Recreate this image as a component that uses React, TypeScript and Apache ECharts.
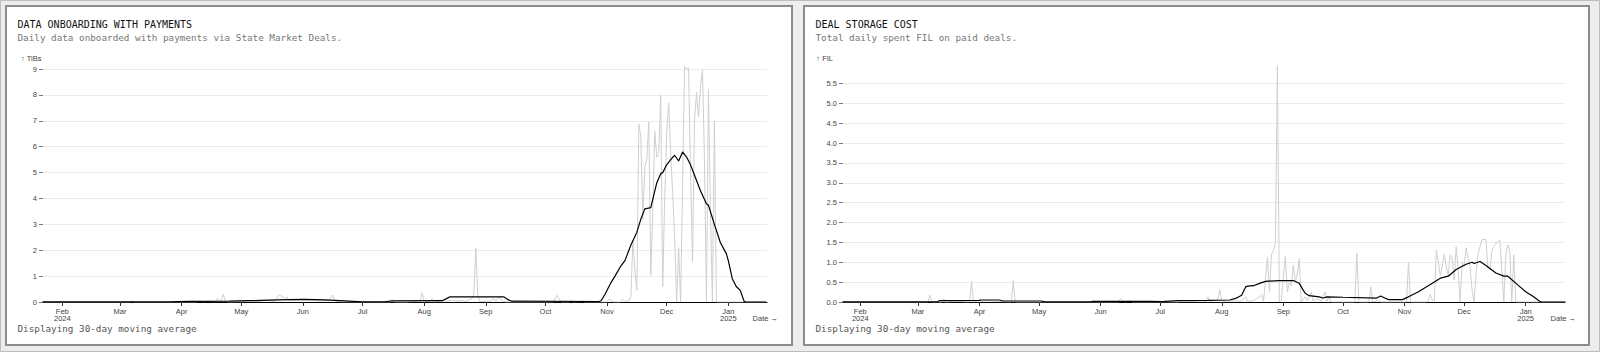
import React, { useEffect, useRef } from 'react';
import * as echarts from 'echarts';

// ---------- data ----------
const monthTicks = ['2024-02-01', '2024-03-01', '2024-04-01', '2024-05-01', '2024-06-01', '2024-07-01',
  '2024-08-01', '2024-09-01', '2024-10-01', '2024-11-01', '2024-12-01', '2025-01-01'];
const monthLabels = ['Feb\n2024', 'Mar', 'Apr', 'May', 'Jun', 'Jul', 'Aug', 'Sep', 'Oct', 'Nov', 'Dec', 'Jan\n2025'];

const onboardTicks = [0, 1, 2, 3, 4, 5, 6, 7, 8, 9];
const costTicks = [0, 0.5, 1, 1.5, 2, 2.5, 3, 3.5, 4, 4.5, 5, 5.5];

// Daily data onboarded (TiBs)
const onboardDaily: [string, number][] = [
  ['2024-01-22', 0], ['2024-03-06', 0], ['2024-03-07', 0.04], ['2024-03-08', 0],
  ['2024-04-08', 0], ['2024-04-10', 0.03], ['2024-04-12', 0.01], ['2024-04-14', 0.04], ['2024-04-16', 0.02],
  ['2024-04-18', 0.01], ['2024-04-19', 0.14], ['2024-04-20', 0.03], ['2024-04-21', 0.05], ['2024-04-22', 0.3], ['2024-04-23', 0.02],
  ['2024-04-25', 0], ['2024-05-02', 0.02], ['2024-05-08', 0.05], ['2024-05-10', 0.02], ['2024-05-13', 0.06],
  ['2024-05-18', 0.03], ['2024-05-20', 0.27], ['2024-05-22', 0.2], ['2024-05-23', 0.12], ['2024-05-24', 0.2], ['2024-05-25', 0.06],
  ['2024-05-28', 0.08], ['2024-06-02', 0.1], ['2024-06-06', 0.07], ['2024-06-10', 0.05], ['2024-06-14', 0.04],
  ['2024-06-16', 0.27], ['2024-06-17', 0.04], ['2024-06-20', 0.01], ['2024-07-01', 0], ['2024-07-15', 0],
  ['2024-07-16', 0.1], ['2024-07-17', 0], ['2024-07-24', 0], ['2024-07-25', 0.06], ['2024-07-27', 0.02],
  ['2024-07-30', 0.05], ['2024-07-31', 0.36], ['2024-08-01', 0.03], ['2024-08-04', 0.02], ['2024-08-05', 0.13],
  ['2024-08-06', 0.01], ['2024-08-14', 0.05], ['2024-08-16', 0.07], ['2024-08-18', 0.03], ['2024-08-20', 0.06],
  ['2024-08-22', 0.02], ['2024-08-25', 0.13], ['2024-08-26', 0.3], ['2024-08-27', 2.08], ['2024-08-28', 0.25],
  ['2024-08-29', 0.02], ['2024-09-03', 0.03], ['2024-09-05', 0.13], ['2024-09-06', 0.03], ['2024-09-08', 0.2],
  ['2024-09-09', 0.05], ['2024-09-11', 0], ['2024-10-05', 0], ['2024-10-06', 0.15], ['2024-10-07', 0.26],
  ['2024-10-08', 0.1], ['2024-10-09', 0], ['2024-10-13', 0], ['2024-10-14', 0.06], ['2024-10-15', 0],
  ['2024-10-20', 0.03], ['2024-10-21', 0], ['2024-11-01', 0], ['2024-11-02', 0.1], ['2024-11-03', 0.08],
  ['2024-11-04', 0], ['2024-11-08', 0], ['2024-11-09', 0.1], ['2024-11-10', 0.02], ['2024-11-12', 0.05],
  ['2024-11-13', 0.2], ['2024-11-14', 2.4], ['2024-11-15', 1.2], ['2024-11-16', 0.45], ['2024-11-17', 6.87],
  ['2024-11-18', 6.4], ['2024-11-19', 3.2], ['2024-11-20', 5.2], ['2024-11-21', 5.5], ['2024-11-22', 6.96],
  ['2024-11-23', 1.03], ['2024-11-24', 3.5], ['2024-11-25', 6.6], ['2024-11-26', 5.6], ['2024-11-27', 5.7],
  ['2024-11-28', 8.0], ['2024-11-29', 0.58], ['2024-11-30', 4.0], ['2024-12-01', 6.5], ['2024-12-02', 7.7],
  ['2024-12-03', 5.8], ['2024-12-04', 4.2], ['2024-12-05', 2.5], ['2024-12-06', 0], ['2024-12-07', 2.1],
  ['2024-12-08', 0], ['2024-12-09', 4.5], ['2024-12-10', 9.1], ['2024-12-11', 9.0], ['2024-12-12', 9.05],
  ['2024-12-13', 5.0], ['2024-12-14', 1.56], ['2024-12-15', 7.0], ['2024-12-16', 8.1], ['2024-12-17', 7.15],
  ['2024-12-18', 8.3], ['2024-12-19', 8.96], ['2024-12-20', 5.5], ['2024-12-21', 0], ['2024-12-22', 8.2],
  ['2024-12-23', 3.5], ['2024-12-24', 0], ['2024-12-25', 7.0], ['2024-12-26', 0], ['2025-01-20', 0],
];

// 30-day moving average of data onboarded (TiBs)
const onboardAvg: [string, number][] = [
  ['2024-01-22', 0.005], ['2024-03-25', 0.005], ['2024-04-05', 0.025], ['2024-04-25', 0.03], ['2024-05-05', 0.05],
  ['2024-05-15', 0.07], ['2024-05-25', 0.09], ['2024-06-02', 0.1], ['2024-06-12', 0.08], ['2024-06-22', 0.04],
  ['2024-07-01', 0.005], ['2024-07-12', 0.01], ['2024-07-16', 0.04], ['2024-08-10', 0.05], ['2024-08-12', 0.12],
  ['2024-08-14', 0.2], ['2024-09-10', 0.2], ['2024-09-12', 0.1], ['2024-09-14', 0.03], ['2024-10-28', 0.02],
  ['2024-10-29', 0.05], ['2024-10-31', 0.3], ['2024-11-03', 0.75], ['2024-11-05', 1.0], ['2024-11-08', 1.4],
  ['2024-11-10', 1.6], ['2024-11-13', 2.2], ['2024-11-16', 2.7], ['2024-11-18', 3.2], ['2024-11-20', 3.6],
  ['2024-11-23', 3.65], ['2024-11-26', 4.6], ['2024-11-28', 4.96], ['2024-11-29', 5.0], ['2024-12-01', 5.3],
  ['2024-12-03', 5.5], ['2024-12-05', 5.67], ['2024-12-07', 5.45], ['2024-12-09', 5.8], ['2024-12-11', 5.6],
  ['2024-12-13', 5.3], ['2024-12-15', 4.9], ['2024-12-18', 4.3], ['2024-12-21', 3.8], ['2024-12-22', 3.74],
  ['2024-12-25', 3.0], ['2024-12-28', 2.3], ['2024-12-31', 1.87], ['2025-01-01', 1.6], ['2025-01-03', 0.9],
  ['2025-01-05', 0.6], ['2025-01-07', 0.45], ['2025-01-09', 0.02], ['2025-01-10', 0], ['2025-01-20', 0],
];

// Daily FIL spent on paid deals
const costDaily: [string, number][] = [
  ['2024-01-23', 0], ['2024-03-06', 0], ['2024-03-07', 0.17], ['2024-03-08', 0], ['2024-03-13', 0],
  ['2024-03-14', 0.08], ['2024-03-15', 0], ['2024-03-20', 0.02], ['2024-03-27', 0], ['2024-03-28', 0.52],
  ['2024-03-29', 0], ['2024-03-31', 0.02], ['2024-04-01', 0.08], ['2024-04-02', 0.01], ['2024-04-05', 0.03],
  ['2024-04-17', 0], ['2024-04-18', 0.54], ['2024-04-19', 0], ['2024-06-10', 0], ['2024-06-11', 0.09],
  ['2024-06-12', 0.05], ['2024-06-13', 0], ['2024-06-16', 0.03], ['2024-06-17', 0], ['2024-07-10', 0],
  ['2024-07-12', 0.03], ['2024-07-18', 0.02], ['2024-07-22', 0.04], ['2024-07-24', 0.01], ['2024-07-25', 0.13],
  ['2024-07-26', 0.02], ['2024-07-30', 0.05], ['2024-07-31', 0.31], ['2024-08-01', 0.02], ['2024-08-05', 0.03],
  ['2024-08-11', 0.02], ['2024-08-13', 0.13], ['2024-08-14', 0.02], ['2024-08-17', 0.03], ['2024-08-21', 0.17],
  ['2024-08-22', 0.02], ['2024-08-24', 1.13], ['2024-08-25', 0.25], ['2024-08-26', 1.2], ['2024-08-27', 1.3],
  ['2024-08-28', 1.47], ['2024-08-29', 5.94], ['2024-08-30', 0], ['2024-08-31', 0.05], ['2024-09-01', 0.6],
  ['2024-09-02', 1.14], ['2024-09-03', 0.25], ['2024-09-04', 0.5], ['2024-09-05', 0.4], ['2024-09-06', 0.93],
  ['2024-09-07', 0.5], ['2024-09-08', 0.7], ['2024-09-09', 1.09], ['2024-09-10', 0], ['2024-09-12', 0.13],
  ['2024-09-13', 0.03], ['2024-09-15', 0.25], ['2024-09-16', 0.03], ['2024-09-18', 0.08], ['2024-09-20', 0.02],
  ['2024-09-22', 0.25], ['2024-09-23', 0.02], ['2024-09-24', 0.13], ['2024-09-25', 0], ['2024-10-07', 0],
  ['2024-10-08', 1.23], ['2024-10-09', 0], ['2024-10-14', 0], ['2024-10-15', 0.38], ['2024-10-16', 0],
  ['2024-10-19', 0.05], ['2024-10-20', 0], ['2024-11-02', 0], ['2024-11-03', 1.0], ['2024-11-04', 0],
  ['2024-11-12', 0], ['2024-11-13', 0.04], ['2024-11-14', 0.2], ['2024-11-15', 0.05], ['2024-11-16', 0.02],
  ['2024-11-17', 1.31], ['2024-11-18', 1.0], ['2024-11-19', 0.67], ['2024-11-20', 0.9], ['2024-11-21', 1.21],
  ['2024-11-22', 0.9], ['2024-11-23', 0.67], ['2024-11-24', 1.19], ['2024-11-25', 1.1], ['2024-11-26', 0.55],
  ['2024-11-27', 1.4], ['2024-11-28', 0.8], ['2024-11-29', 0], ['2024-11-30', 1.0], ['2024-12-01', 0.9],
  ['2024-12-02', 1.36], ['2024-12-03', 1.1], ['2024-12-04', 0.9], ['2024-12-05', 0.3], ['2024-12-06', 0],
  ['2024-12-07', 0.72], ['2024-12-08', 1.2], ['2024-12-09', 1.4], ['2024-12-10', 1.57], ['2024-12-11', 1.57],
  ['2024-12-12', 1.58], ['2024-12-13', 0.85], ['2024-12-14', 0.8], ['2024-12-15', 1.3], ['2024-12-16', 1.4],
  ['2024-12-17', 1.48], ['2024-12-18', 1.52], ['2024-12-19', 1.55], ['2024-12-20', 0.8], ['2024-12-21', 0],
  ['2024-12-22', 1.2], ['2024-12-23', 1.44], ['2024-12-24', 1.3], ['2024-12-25', 0], ['2024-12-26', 1.19],
  ['2024-12-27', 0], ['2025-01-21', 0],
];

// 30-day moving average of FIL spent
const costAvg: [string, number][] = [
  ['2024-01-23', 0.003], ['2024-03-11', 0.005], ['2024-03-12', 0.035], ['2024-04-01', 0.04], ['2024-04-02', 0.05],
  ['2024-04-11', 0.05], ['2024-04-13', 0.025], ['2024-05-02', 0.025], ['2024-05-04', 0.005], ['2024-05-27', 0.005],
  ['2024-05-28', 0.015], ['2024-06-26', 0.015], ['2024-07-02', 0.01], ['2024-07-10', 0.035], ['2024-07-25', 0.04],
  ['2024-08-05', 0.05], ['2024-08-08', 0.09], ['2024-08-11', 0.17], ['2024-08-13', 0.38], ['2024-08-14', 0.4],
  ['2024-08-17', 0.41], ['2024-08-20', 0.47], ['2024-08-23', 0.52], ['2024-08-30', 0.54], ['2024-09-06', 0.54],
  ['2024-09-09', 0.47], ['2024-09-11', 0.3], ['2024-09-12', 0.22], ['2024-09-14', 0.16], ['2024-09-19', 0.13],
  ['2024-09-21', 0.1], ['2024-09-23', 0.13], ['2024-10-01', 0.12], ['2024-10-18', 0.1], ['2024-10-20', 0.15],
  ['2024-10-22', 0.1], ['2024-10-24', 0.06], ['2024-10-31', 0.06], ['2024-11-03', 0.13], ['2024-11-08', 0.26],
  ['2024-11-15', 0.47], ['2024-11-19', 0.6], ['2024-11-23', 0.65], ['2024-11-27', 0.82], ['2024-12-02', 0.95],
  ['2024-12-05', 1.0], ['2024-12-06', 0.97], ['2024-12-09', 1.02], ['2024-12-12', 0.92], ['2024-12-17', 0.73],
  ['2024-12-21', 0.65], ['2024-12-23', 0.65], ['2024-12-28', 0.43], ['2025-01-01', 0.26], ['2025-01-05', 0.13],
  ['2025-01-08', 0.02], ['2025-01-09', 0], ['2025-01-21', 0],
];

// ---------- helpers ----------
const MONO = '"DejaVu Sans Mono", "Liberation Mono", monospace';
const SANS = '"Liberation Sans", Arial, sans-serif';
const GRAY_LINE = '#cfcfcf';
const AXIS_TEXT = '#444';
const AXIS_FONT = 7.5;

const ts = (s: string, hour: number = 0) => {
  const [y, m, d] = s.split('-').map(Number);
  return Date.UTC(y, m - 1, d, hour);
};
const toXY = (rows: [string, number][]) => rows.map(([d, v]) => [ts(d), v]);

const monthTickValues = monthTicks.map((t) => ts(t));
const labelByTs: Record<string, string> = {};
monthTicks.forEach((t, i) => { labelByTs[String(ts(t))] = monthLabels[i]; });
const monthFormatter = (value: number) => labelByTs[String(Math.round(value))] ?? '';

function makeXAxis(gridIndex: number, min: number, max: number) {
  return {
    type: 'value',
    gridIndex,
    min,
    max,
    name: 'Date →',
    nameLocation: 'end',
    nameGap: 11,
    nameTextStyle: { fontFamily: SANS, fontSize: AXIS_FONT, color: AXIS_TEXT, align: 'right', verticalAlign: 'top', padding: [12.5, 0, 0, 0] },
    axisLine: { show: true, onZero: false, lineStyle: { color: '#000', width: 1 } },
    axisTick: { show: true, length: 4, lineStyle: { color: '#333', width: 1 }, customValues: monthTickValues },
    axisLabel: {
      show: true, customValues: monthTickValues, formatter: monthFormatter, fontFamily: SANS, fontSize: AXIS_FONT,
      lineHeight: 7.5, color: AXIS_TEXT, margin: 5.5, hideOverlap: false, showMinLabel: true, showMaxLabel: true,
    },
    splitLine: { show: false },
  };
}

function makeYAxis(gridIndex: number, max: number, ticks: number[], name: string, namePadRight: number, decimals: number) {
  return {
    type: 'value',
    gridIndex,
    min: 0,
    max,
    name,
    nameLocation: 'end',
    nameGap: 8,
    nameTextStyle: { fontFamily: SANS, fontSize: AXIS_FONT, color: AXIS_TEXT, align: 'right', verticalAlign: 'middle', padding: [0, namePadRight, 0, 0] },
    axisLine: { show: false },
    axisTick: { show: true, length: 4, lineStyle: { color: '#777', width: 1 }, customValues: ticks },
    axisLabel: {
      show: true, customValues: ticks, fontFamily: SANS, fontSize: AXIS_FONT, color: AXIS_TEXT, margin: 6,
      formatter: (v: number) => v.toFixed(decimals),
    },
    splitLine: { show: true, lineStyle: { color: '#ececec', width: 1 } },
  };
}

function textEl(text: string, x: number, y: number, size: number, color: string, weight: string = 'normal') {
  return {
    type: 'text', x, y, z: 10,
    style: { text, fill: color, font: `${weight} ${size}px ${MONO}`, verticalAlign: 'middle', align: 'left' },
  };
}

export default function App() {
  const ref = useRef<HTMLDivElement>(null);
  useEffect(() => {
    if (!ref.current) return;
    const chart = echarts.init(ref.current, undefined, { renderer: 'svg' });
    const option: any = {
      animation: false,
      backgroundColor: '#ededed',
      graphic: [
        { type: 'rect', z: -10, shape: { x: 0.5, y: 0.5, width: 1599, height: 351 }, style: { fill: 'none', stroke: '#bdbdbd', lineWidth: 1 } },
        { type: 'rect', z: -10, shape: { x: 6, y: 6, width: 786, height: 339 }, style: { fill: '#fff', stroke: '#8c8c8c', lineWidth: 2 } },
        { type: 'rect', z: -10, shape: { x: 804, y: 6, width: 785, height: 339 }, style: { fill: '#fff', stroke: '#8c8c8c', lineWidth: 2 } },
        textEl('DATA ONBOARDING WITH PAYMENTS', 17.5, 24, 10, '#111'),
        textEl('Daily data onboarded with payments via State Market Deals.', 17.5, 37.2, 9.3, '#777'),
        textEl('Displaying 30-day moving average', 17.5, 328.5, 9.3, '#555'),
        textEl('DEAL STORAGE COST', 815.5, 24, 10, '#111'),
        textEl('Total daily spent FIL on paid deals.', 815.5, 37.2, 9.3, '#777'),
        textEl('Displaying 30-day moving average', 815.5, 328.5, 9.3, '#555'),
      ],
      grid: [
        { left: 43, top: 66, width: 724, height: 236, outerBoundsMode: 'none' },
        { left: 843, top: 66, width: 722, height: 236, outerBoundsMode: 'none' },
      ],
      xAxis: [
        makeXAxis(0, ts('2024-01-22', 7), ts('2025-01-20', 11)),
        makeXAxis(1, ts('2024-01-23', 7), ts('2025-01-20', 19)),
      ],
      yAxis: [
        makeYAxis(0, 9.12, onboardTicks, '↑ TiBs', 1.5, 0),
        makeYAxis(1, 5.94, costTicks, '↑ FIL', 10, 1),
      ],
      series: [
        { type: 'line', xAxisIndex: 0, yAxisIndex: 0, data: toXY(onboardDaily), showSymbol: false, symbol: 'none', z: 2,
          lineStyle: { color: GRAY_LINE, width: 1 }, silent: true },
        { type: 'line', xAxisIndex: 0, yAxisIndex: 0, data: toXY(onboardAvg), showSymbol: false, symbol: 'none', z: 3,
          lineStyle: { color: '#000', width: 1.2 }, silent: true },
        { type: 'line', xAxisIndex: 1, yAxisIndex: 1, data: toXY(costDaily), showSymbol: false, symbol: 'none', z: 2,
          lineStyle: { color: GRAY_LINE, width: 1 }, silent: true },
        { type: 'line', xAxisIndex: 1, yAxisIndex: 1, data: toXY(costAvg), showSymbol: false, symbol: 'none', z: 3,
          lineStyle: { color: '#000', width: 1.2 }, silent: true },
      ],
    };
    chart.setOption(option);
    return () => chart.dispose();
  }, []);
  return <div ref={ref} style={{ position: 'absolute', left: 0, top: 0, width: 1600, height: 352 }} />;
}
